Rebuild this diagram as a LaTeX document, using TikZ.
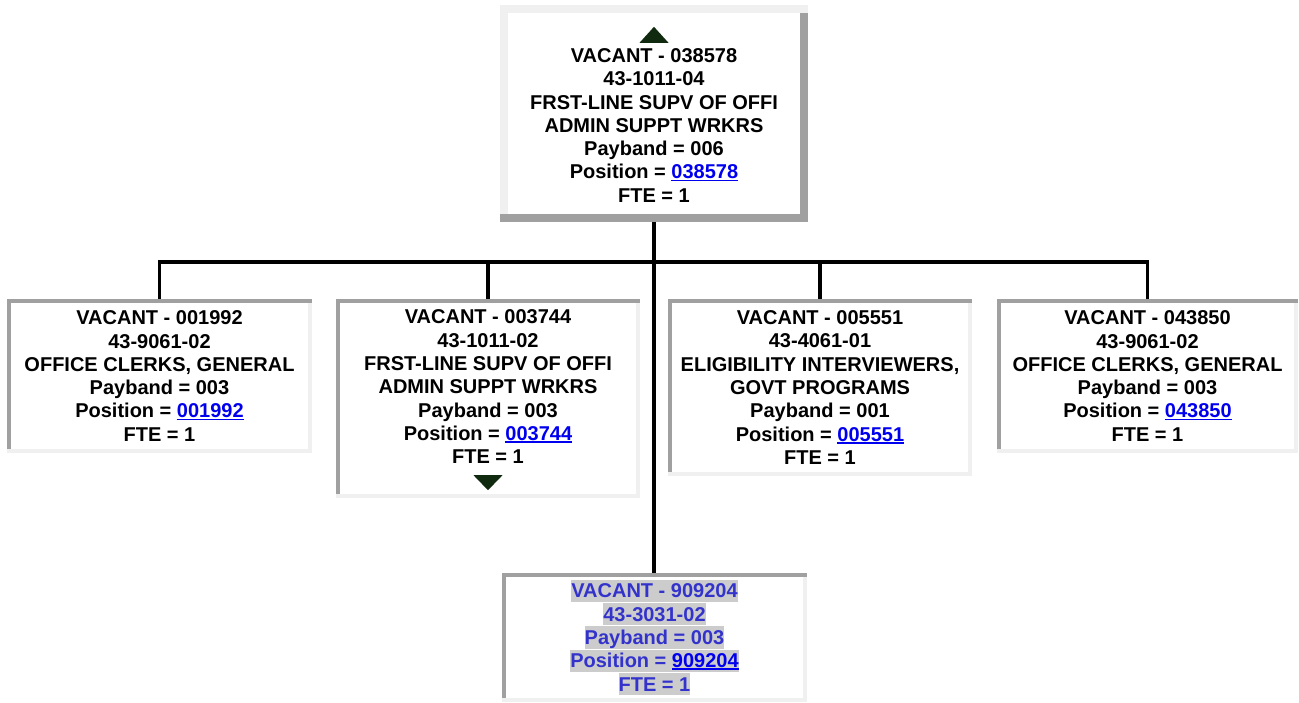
\documentclass[tikz,border=0pt]{standalone}
\usepackage{fontspec}
\setmainfont{Liberation Sans}
\usepackage{xcolor}
\usetikzlibrary{calc}

\definecolor{framedark}{HTML}{A0A0A0}
\definecolor{framelight}{HTML}{F0F0F0}
\definecolor{linkblue}{HTML}{0000EE}
\definecolor{tempblue}{HTML}{3333CC}
\definecolor{hlgray}{HTML}{CCCCCC}
\definecolor{arrowgreen}{HTML}{0F2A0F}

% underlined position link
\newcommand{\poslink}[1]{{\color{linkblue}\setbox0\hbox{#1}\rlap{\rule[-2.5pt]{\wd0}{1.8pt}}\box0}}
% gray highlight behind one line
\newcommand{\hlbox}[1]{{\fboxsep=0pt\colorbox{hlgray}{\rule[-4.2pt]{0pt}{22.3pt}#1}}}

% sunken frame: dark top/left, light right/bottom
\newcommand{\insetframe}[2]{%
  \fill[framelight] (#1.north east) rectangle ([xshift=-#2]#1.south east);
  \fill[framelight] (#1.south west) rectangle ([yshift=#2]#1.south east);
  \fill[framedark] (#1.north west) rectangle ([yshift=-#2]#1.north east);
  \fill[framedark] (#1.north west) rectangle ([xshift=#2,yshift=#2]#1.south west);
}
% raised frame: light top/left, dark right/bottom
\newcommand{\outsetframe}[2]{%
  \fill[framedark] (#1.north east) rectangle ([xshift=-#2]#1.south east);
  \fill[framedark] (#1.south west) rectangle ([yshift=#2]#1.south east);
  \fill[framelight] (#1.north west) rectangle ([yshift=-#2]#1.north east);
  \fill[framelight] (#1.north west) rectangle ([xshift=#2,yshift=#2]#1.south west);
}

\tikzset{
  posbox/.style={inner sep=0pt, align=center, fill=white,
    font=\bfseries\fontsize{20}{23.3}\selectfont},
  conn/.style={line width=3.5pt, black}
}

\begin{document}
\begin{tikzpicture}[x=1pt, y=-1pt]
        \useasboundingbox[fill=white] (0,0) rectangle (1299,702);

        % Top position
        \node[posbox, minimum width=308pt, minimum height=217pt] (top) at (654,113.5)
          {\rule{0pt}{14.3pt}\\VACANT - 038578\\43-1011-04\\FRST-LINE SUPV OF OFFI\\ADMIN SUPPT WRKRS\\Payband = 006\\Position = \poslink{038578}\\FTE = 1};
        \outsetframe{top}{8pt}
        \fill[arrowgreen] ([shift={(-14.5,38)}]top.north) -- ++(29,0) -- ++(-14.5,-16) -- cycle;

        % Subordinate positions
        \node[posbox, minimum width=305pt, minimum height=154pt] (b1) at (159.5,376)
          {VACANT - 001992\\43-9061-02\\OFFICE CLERKS, GENERAL\\Payband = 003\\Position = \poslink{001992}\\FTE = 1};
        \node[posbox, minimum width=304pt, minimum height=199pt] (b2) at (488,398.5)
          {VACANT - 003744\\43-1011-02\\FRST-LINE SUPV OF OFFI\\ADMIN SUPPT WRKRS\\Payband = 003\\Position = \poslink{003744}\\FTE = 1\\\rule{0pt}{0pt}};
        \node[posbox, minimum width=304pt, minimum height=177pt] (b3) at (820,387.5)
          {VACANT - 005551\\43-4061-01\\ELIGIBILITY INTERVIEWERS,\\GOVT PROGRAMS\\Payband = 001\\Position = \poslink{005551}\\FTE = 1};
        \node[posbox, minimum width=301pt, minimum height=154pt] (b4) at (1147.5,376)
          {VACANT - 043850\\43-9061-02\\OFFICE CLERKS, GENERAL\\Payband = 003\\Position = \poslink{043850}\\FTE = 1};
        \foreach \b in {b1,b2,b3,b4} {
            \insetframe{\b}{4pt}
        }
        \fill[arrowgreen] ([shift={(-14.5,-23)}]b2.south) -- ++(29,0) -- ++(-14.5,15) -- cycle;

        % Temporary position
        \node[posbox, text=tempblue, minimum width=305pt, minimum height=129pt] (bot) at (654.5,637.5)
          {\hlbox{VACANT - 909204}\\\hlbox{43-3031-02}\\\hlbox{Payband = 003}\\\hlbox{Position = \poslink{909204}}\\\hlbox{FTE = 1}};
        \insetframe{bot}{4pt}

        % Connectors
        \coordinate (bus) at (654,262);
        \draw[conn] (top.south) -- (top.south |- bot.north);
        \foreach \b in {b1,b2,b3,b4} {
            \draw[conn] (\b.north) |- (bus);
        }
\end{tikzpicture}
\end{document}
